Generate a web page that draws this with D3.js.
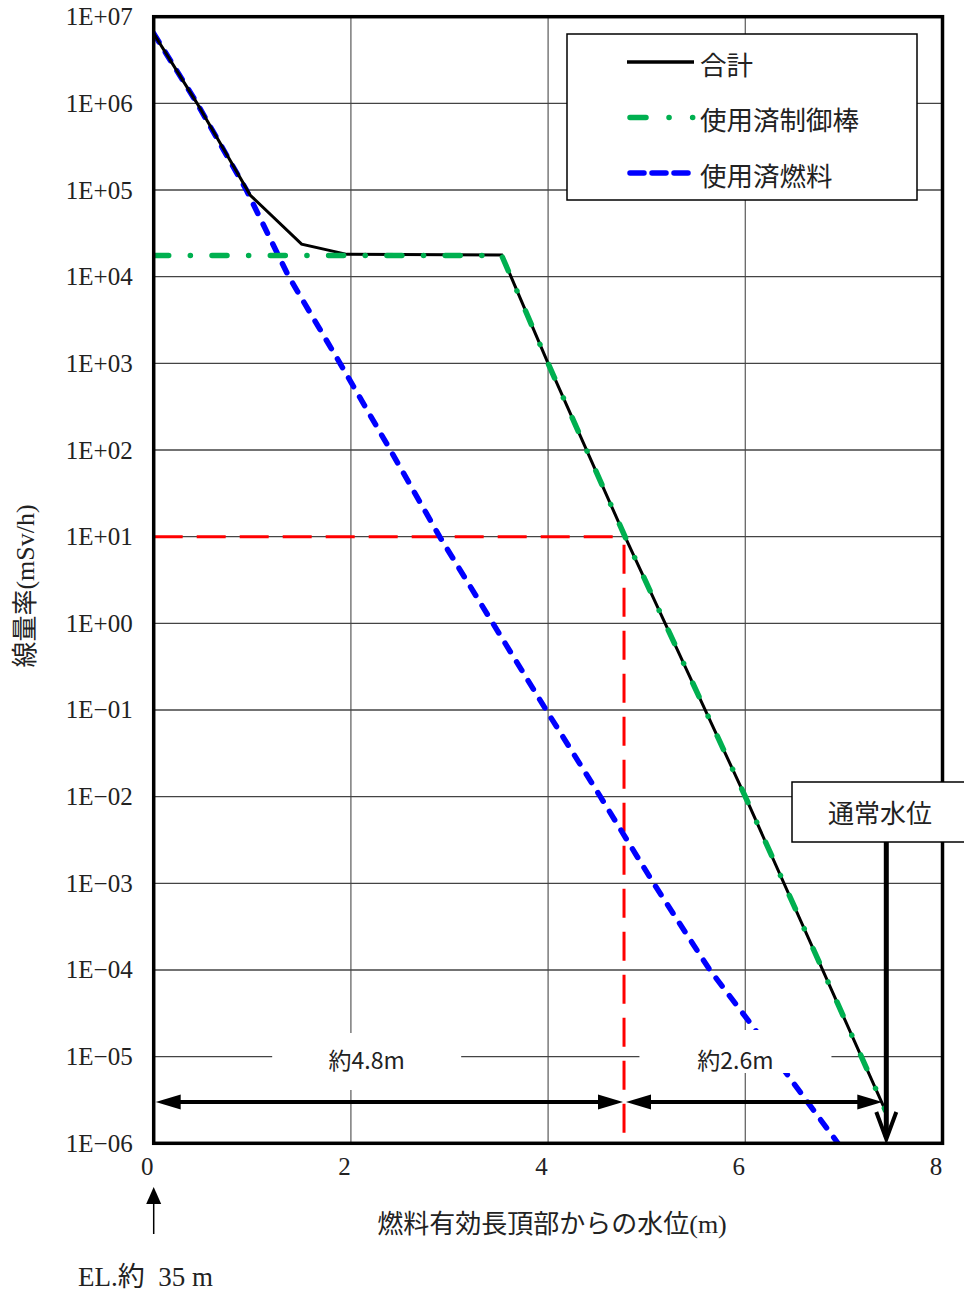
<!DOCTYPE html>
<html>
<head>
<meta charset="utf-8">
<script src="https://cdn.jsdelivr.net/npm/d3@7"></script>
<style>
  body { margin: 0; background: #fff; }
  svg { display: block; }
  text { font-family: "Liberation Serif", "Noto Sans CJK JP", serif; fill: #222; }
  .jp { font-family: "Noto Sans CJK JP", sans-serif; }
</style>
</head>
<body>
<svg id="chart" width="964" height="1294"></svg>
<script>
// x ticks and log-scale y ticks
const xTicks = [0, 2, 4, 6, 8];
const yTickValues = [1e7, 1e6, 1e5, 1e4, 1e3, 1e2, 1e1, 1e0, 1e-1, 1e-2, 1e-3, 1e-4, 1e-5, 1e-6];
const yTickLabels = ["1E+07", "1E+06", "1E+05", "1E+04", "1E+03", "1E+02", "1E+01",
                     "1E+00", "1E\u221201", "1E\u221202", "1E\u221203", "1E\u221204", "1E\u221205", "1E\u221206"];

// 合計 (total)
const totalX = [0, 0.44, 0.98, 1.50, 1.96, 3.53, 4.00, 4.78, 6.00, 7.42];
const totalY = [6.4e6, 1.0e6, 8.7e4, 2.37e4, 1.81e4, 1.78e4, 1.0e3, 10, 1.0e-2, 2.4e-6];

// 使用済制御棒 (spent control rods)
const rodX = [0, 3.53, 4.00, 4.78, 6.00, 7.42];
const rodY = [1.75e4, 1.75e4, 1.0e3, 10, 1.0e-2, 2.4e-6];

// 使用済燃料 (spent fuel)
const fuelX = [0, 0.44, 0.94, 1.37, 1.89, 2.40, 2.90, 3.44, 3.98, 4.53, 5.07, 5.64, 6.08, 6.44, 6.94];
const fuelY = [6.4e6, 1e6, 1e5, 1e4, 1e3, 1e2, 1e1, 1, 1e-1, 1e-2, 1e-3, 1e-4, 2.2e-5, 5.9e-6, 1e-6];

// annotations
const refDose = 10;          // 10 mSv/h line
const refLevel = 4.77;       // water level where total reaches 10 mSv/h
const normalLevel = 7.43;    // 通常水位
const spanStarts = [0, 4.77];
const spanEnds = [4.77, 7.40];
const spanLabels = ["約4.8m", "約2.6m"];
const spanLabelX = [2.16, 5.90];

const svg = d3.select("#chart");

const x = d3.scaleLinear().domain([0, 8]).range([153.7, 942.5]);
const y = d3.scaleLog().domain([1e-6, 1e7]).range([1143.3, 16.7]);

const pLeft = x(0), pRight = x(8), pTop = y(1e7), pBottom = y(1e-6);

svg.append("defs").append("clipPath").attr("id", "plotClip")
  .append("rect").attr("x", pLeft).attr("y", pTop)
  .attr("width", pRight - pLeft).attr("height", pBottom - pTop);

// gridlines
svg.append("g").selectAll("line")
  .data(xTicks.slice(1, -1)).enter().append("line")
  .attr("x1", d => x(d)).attr("x2", d => x(d))
  .attr("y1", pTop).attr("y2", pBottom)
  .attr("stroke", "#666").attr("stroke-width", 1.3);

svg.append("g").selectAll("line")
  .data(yTickValues.slice(1, -1)).enter().append("line")
  .attr("x1", pLeft).attr("x2", pRight)
  .attr("y1", d => y(d)).attr("y2", d => y(d))
  .attr("stroke", "#444").attr("stroke-width", 1.3);

// y axis labels
const yAxis = d3.axisLeft(y)
  .tickValues(yTickValues)
  .tickFormat((d, i) => yTickLabels[i])
  .tickSize(0).tickPadding(21);
const yG = svg.append("g").attr("transform", `translate(${pLeft},0)`).call(yAxis);
yG.select(".domain").remove();
yG.selectAll("text").attr("font-size", 25).attr("fill", "#222")
  .attr("font-family", "Liberation Serif, serif");

// x axis labels
const xAxis = d3.axisBottom(x).tickValues(xTicks).tickSize(0).tickPadding(0);
const xG = svg.append("g").attr("transform", `translate(-7,${pBottom + 14})`).call(xAxis);
xG.select(".domain").remove();
xG.selectAll("text").attr("font-size", 25).attr("fill", "#222")
  .attr("font-family", "Liberation Serif, serif");

// series
const plot = svg.append("g").attr("clip-path", "url(#plotClip)");
const line = d3.line().x(d => x(d[0])).y(d => y(d[1]));

// red reference lines
plot.append("path")
  .attr("d", line([[0, refDose], [refLevel, refDose]]))
  .attr("fill", "none").attr("stroke", "#ff0000").attr("stroke-width", 3)
  .attr("stroke-dasharray", "29,14");
plot.append("path")
  .attr("d", line([[refLevel, refDose], [refLevel, 1e-6]]))
  .attr("fill", "none").attr("stroke", "#ff0000").attr("stroke-width", 3)
  .attr("stroke-dasharray", "29,14").attr("stroke-dashoffset", -8);

plot.append("path")
  .attr("d", line(fuelX.map((v, i) => [v, fuelY[i]])))
  .attr("fill", "none").attr("stroke", "#0000ff").attr("stroke-width", 5.5)
  .attr("stroke-linecap", "round").attr("stroke-dasharray", "10,12");

plot.append("path")
  .attr("d", line(totalX.map((v, i) => [v, totalY[i]])))
  .attr("fill", "none").attr("stroke", "#000").attr("stroke-width", 3);

plot.append("path")
  .attr("d", line(rodX.map((v, i) => [v, rodY[i]])))
  .attr("fill", "none").attr("stroke", "#00b050").attr("stroke-width", 5.5)
  .attr("stroke-linecap", "round").attr("stroke-dasharray", "15,21.6,0.1,21.6");

// white label boxes
const boxW = [189, 192], boxTop = [1033, 1030], boxBot = [1090, 1073];
spanLabels.forEach((lab, i) => {
  svg.append("rect")
    .attr("x", x(spanLabelX[i]) - boxW[i] / 2).attr("y", boxTop[i])
    .attr("width", boxW[i]).attr("height", boxBot[i] - boxTop[i])
    .attr("fill", "#fff");
  svg.append("text").attr("class", "jp")
    .attr("x", x(spanLabelX[i])).attr("y", y(1e-5) + 2)
    .attr("text-anchor", "middle").attr("dominant-baseline", "central")
    .attr("font-size", 23).text(lab);
});

// frame
svg.append("rect")
  .attr("x", pLeft).attr("y", pTop)
  .attr("width", pRight - pLeft).attr("height", pBottom - pTop)
  .attr("fill", "none").attr("stroke", "#000").attr("stroke-width", 3.5);

// span arrows
const arrowY = y(3e-6);
function headPath(tipX, dir) {
  const len = 25, half = 7.5;
  return `M${tipX},${arrowY}L${tipX + dir * len},${arrowY - half}L${tipX + dir * len},${arrowY + half}Z`;
}
spanStarts.forEach((s, i) => {
  const x0 = x(s) + 2, x1 = x(spanEnds[i]) - 1;
  svg.append("line").attr("x1", x0 + 10).attr("x2", x1 - 10)
    .attr("y1", arrowY).attr("y2", arrowY)
    .attr("stroke", "#000").attr("stroke-width", 4);
  svg.append("path").attr("d", headPath(x0, 1)).attr("fill", "#000");
  svg.append("path").attr("d", headPath(x1, -1)).attr("fill", "#000");
});

// legend
const legend = svg.append("g");
legend.append("rect").attr("x", 567).attr("y", 34).attr("width", 350).attr("height", 166)
  .attr("fill", "#fff").attr("stroke", "#000").attr("stroke-width", 1.5);
const legendItems = [
  { name: "合計", color: "#000", width: 3.5, dash: null, cap: "butt" },
  { name: "使用済制御棒", color: "#00b050", width: 5.5, dash: "16,23,0.1,23.5,0.1,100", cap: "round" },
  { name: "使用済燃料", color: "#0000ff", width: 5.5, dash: "14,8", cap: "round" }
];
legendItems.forEach((d, i) => {
  const ly = 62 + i * 55.5;
  legend.append("line").attr("x1", d.cap === "round" ? 630 : 627).attr("x2", 694)
    .attr("y1", ly).attr("y2", ly)
    .attr("stroke", d.color).attr("stroke-width", d.width)
    .attr("stroke-linecap", d.cap)
    .attr("stroke-dasharray", d.dash);
  legend.append("text").attr("class", "jp")
    .attr("x", 700).attr("y", ly + 1).attr("dominant-baseline", "central")
    .attr("font-size", 26.5).text(d.name);
});

// 通常水位 box and arrow
const nx = x(normalLevel);
svg.append("rect").attr("x", 792).attr("y", 782).attr("width", 200).attr("height", 60)
  .attr("fill", "#fff").attr("stroke", "#000").attr("stroke-width", 1.5);
svg.append("text").attr("class", "jp")
  .attr("x", 880).attr("y", 811).attr("text-anchor", "middle")
  .attr("dominant-baseline", "central").attr("font-size", 26).text("通常水位");
svg.append("line").attr("x1", nx).attr("x2", nx).attr("y1", 842).attr("y2", 1137)
  .attr("stroke", "#000").attr("stroke-width", 5);
svg.append("path")
  .attr("d", `M${nx - 10},${1112}L${nx},${1139}L${nx + 10},${1112}`)
  .attr("fill", "none").attr("stroke", "#000").attr("stroke-width", 4)
  .attr("stroke-linejoin", "miter");

// axis titles
svg.append("text")
  .attr("x", 552).attr("y", 1224).attr("text-anchor", "middle")
  .attr("dominant-baseline", "central").attr("font-size", 26)
  .attr("font-family", "Noto Sans CJK JP, sans-serif")
  .text("燃料有効長頂部からの水位(m)");

svg.append("text")
  .attr("transform", "translate(25,586) rotate(-90)")
  .attr("text-anchor", "middle").attr("dominant-baseline", "central")
  .attr("font-size", 26)
  .attr("font-family", "Noto Sans CJK JP, sans-serif")
  .text("線量率(mSv/h)");

// EL marker
svg.append("line").attr("x1", pLeft).attr("x2", pLeft).attr("y1", 1200).attr("y2", 1234)
  .attr("stroke", "#000").attr("stroke-width", 1.5);
svg.append("path")
  .attr("d", `M${pLeft},1187L${pLeft - 7.5},1204L${pLeft + 7.5},1204Z`).attr("fill", "#000");
svg.append("text")
  .attr("x", 78).attr("y", 1277).attr("dominant-baseline", "central")
  .attr("font-size", 27).text("EL.約  35 m")
  .style("white-space", "pre");
</script>
</body>
</html>
